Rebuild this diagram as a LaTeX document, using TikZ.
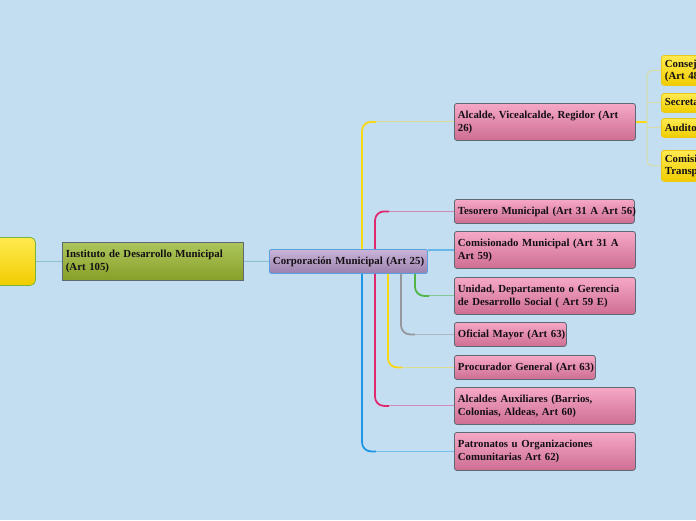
\documentclass[tikz,border=0pt]{standalone}
\usepackage{fontspec}
\setmainfont{Liberation Serif}
\usetikzlibrary{calc}
\definecolor{bg}{RGB}{196,222,241}
\definecolor{pinkTop}{RGB}{246,168,198}
\definecolor{pinkBot}{RGB}{206,110,146}
\definecolor{boxborder}{RGB}{95,105,115}
\definecolor{instTop}{RGB}{172,198,92}
\definecolor{instBot}{RGB}{135,160,40}
\definecolor{corpTop}{RGB}{202,180,216}
\definecolor{corpBot}{RGB}{155,130,175}
\definecolor{corpBorder}{RGB}{90,160,225}
\definecolor{yTop}{RGB}{255,234,80}
\definecolor{yBot}{RGB}{240,205,0}
\definecolor{rootBorder}{RGB}{120,180,60}
\definecolor{yBorder}{RGB}{235,200,20}
\definecolor{txt}{RGB}{20,15,20}
\definecolor{lY}{RGB}{250,215,20}
\definecolor{lP}{RGB}{225,40,110}
\definecolor{lB}{RGB}{30,150,230}
\definecolor{lG}{RGB}{150,150,155}
\definecolor{lGr}{RGB}{80,180,70}
\definecolor{lT}{RGB}{140,195,200}
\begin{document}
\begin{tikzpicture}[x=1pt,y=-1pt,
  base/.style={anchor=north west, align=left, text=txt, inner xsep=3.5pt, inner ysep=2pt,
    font=\fontsize{10.8}{13}\selectfont\bfseries},
  pbox/.style={base, draw=boxborder, line width=0.8pt, rounded corners=2.5pt,
    top color=pinkTop, bottom color=pinkBot},
  ibox/.style={base, draw=boxborder, line width=0.8pt,
    top color=instTop, bottom color=instBot},
  cbox/.style={base, draw=corpBorder, line width=0.9pt, rounded corners=2pt,
    top color=corpTop, bottom color=corpBot},
  ybox/.style={base, draw=yBorder, line width=0.8pt, rounded corners=3pt,
    top color=yTop, bottom color=yBot, font=\fontsize{10.8}{12}\selectfont\bfseries},
  rbox/.style={base, draw=rootBorder, line width=0.8pt, rounded corners=5pt,
    top color=yTop, bottom color=yBot},
  strong/.style={line width=1.8pt, rounded corners=9pt},
  pale/.style={line width=1pt},
]
\fill[bg] (0,0) rectangle (696,520);
\useasboundingbox (0,0) rectangle (696,520);
\clip (0,0) rectangle (696,520);

% nodes
\node[rbox, text width=58pt, minimum height=48pt] (root) at (-30,237) {};
\node[ibox, text width=174pt, minimum height=38pt] (inst) at (62,242) {Instituto de Desarrollo Municipal\\(Art 105)};
\node[cbox, text width=151pt, minimum height=24pt] (corp) at (269,249) {\mbox{Corporación Municipal (Art 25)}};

\node[pbox, text width=174pt, minimum height=37pt] (alc) at (454,103) {Alcalde, Vicealcalde, Regidor (Art\\26)};
\node[pbox, text width=173pt, minimum height=24pt] (tes) at (454,199) {\mbox{Tesorero Municipal (Art 31 A Art 56)}};
\node[pbox, text width=174pt, minimum height=37pt] (com) at (454,231) {Comisionado Municipal (Art 31 A\\Art 59)};
\node[pbox, text width=174pt, minimum height=37pt] (uni) at (454,277) {Unidad, Departamento o Gerencia\\de Desarrollo Social ( Art 59 E)};
\node[pbox, text width=105pt, minimum height=24pt] (ofi) at (454,322) {\mbox{Oficial Mayor (Art 63)}};
\node[pbox, text width=134pt, minimum height=24pt] (pro) at (454,355) {\mbox{Procurador General (Art 63)}};
\node[pbox, text width=174pt, minimum height=37pt] (aux) at (454,387) {Alcaldes Auxiliares (Barrios,\\Colonias, Aldeas, Art 60)};
\node[pbox, text width=174pt, minimum height=38pt] (pat) at (454,432) {Patronatos u Organizaciones\\Comunitarias Art 62)};

\node[ybox, text width=120pt, minimum height=30pt] (con) at (661,55) {Consejo Municipal\\(Art 48)};
\node[ybox, text width=120pt, minimum height=19pt] (sec) at (661,93) {Secretario Municipal};
\node[ybox, text width=120pt, minimum height=19pt] (aud) at (661,118) {Auditor Interno};
\node[ybox, text width=120pt, minimum height=31pt] (cms) at (661,150) {Comisión de\\Transparencia};

% coordinates for branch columns
\coordinate (xa) at (362,0);
\coordinate (xb) at (375,0);
\coordinate (xc) at (388,0);
\coordinate (xd) at (401,0);
\coordinate (xe) at (415,0);
\coordinate (xr) at (647,0);

% root connectors
\draw[lT, line width=1pt] (root.east) -- (inst.west);
\draw[lT, line width=1pt] (inst.east) -- (corp.west);

% corp connectors
\draw[strong, lY] (corp.north -| xa) |- ($(alc.west -| xa)+(14,0)$);
\draw[pale, lY!45!bg] ($(alc.west -| xa)+(14,0)$) -- (alc.west);

\draw[strong, lP] (corp.north -| xb) |- ($(tes.west -| xb)+(14,0)$);
\draw[pale, lP!45!bg] ($(tes.west -| xb)+(14,0)$) -- (tes.west);

\draw[pale, lB!55!bg, line width=1.2pt] (corp.east |- com.west) -- (com.west);

\draw[strong, lGr] (corp.south -| xe) |- ($(uni.west -| xe)+(14,0)$);
\draw[pale, lGr!55!bg] ($(uni.west -| xe)+(14,0)$) -- (uni.west);

\draw[strong, lG] (corp.south -| xd) |- ($(ofi.west -| xd)+(14,0)$);
\draw[pale, lG!55!bg] ($(ofi.west -| xd)+(14,0)$) -- (ofi.west);

\draw[strong, lY] (corp.south -| xc) |- ($(pro.west -| xc)+(14,0)$);
\draw[pale, lY!45!bg] ($(pro.west -| xc)+(14,0)$) -- (pro.west);

\draw[strong, lP] (corp.south -| xb) |- ($(aux.west -| xb)+(14,0)$);
\draw[pale, lP!45!bg] ($(aux.west -| xb)+(14,0)$) -- (aux.west);

\draw[strong, lB] (corp.south -| xa) |- ($(pat.west -| xa)+(14,0)$);
\draw[pale, lB!45!bg] ($(pat.west -| xa)+(14,0)$) -- (pat.west);

% alcalde sub-branches
\draw[lY, line width=1.8pt] (alc.east) -- (alc.east -| xr);
\draw[lY!35!bg, line width=1pt, rounded corners=6pt] (con.west) -| (xr |- cms.west) -- (cms.west);
\draw[lY!35!bg, line width=1pt] (xr |- sec.west) -- (sec.west);
\draw[lY!35!bg, line width=1pt] (xr |- aud.west) -- (aud.west);
\end{tikzpicture}
\end{document}
